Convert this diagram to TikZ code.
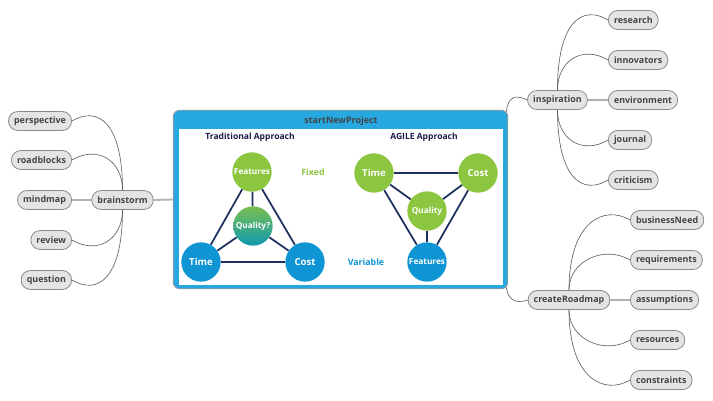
\documentclass[tikz,border=0pt]{standalone}
\usepackage{fontspec}
\setmainfont{Open Sans}
\usepackage{tikz}
\usetikzlibrary{calc}

\definecolor{mmfill}{HTML}{E4E4E4}
\definecolor{mmline}{HTML}{8A8A8A}
\definecolor{mmtext}{HTML}{444444}
\definecolor{projblue}{HTML}{27A8E0}
\definecolor{leafgreen}{HTML}{8CC540}
\definecolor{ballblue}{HTML}{0F94D4}
\definecolor{linknavy}{HTML}{1D2F5E}
\definecolor{qualteal}{HTML}{0E9AAE}
\definecolor{headnavy}{HTML}{1B1B4B}

\begin{document}
\begin{tikzpicture}[
  x=0.75pt,y=-0.75pt,
  topic/.style={
    draw=mmline, fill=mmfill, line width=0.6pt,
    rounded corners=7pt, minimum height=14.25pt,
    inner xsep=4.2pt, inner ysep=0pt,
    text=mmtext, font=\fontsize{6.7}{7}\selectfont\bfseries
  },
  branch/.style={draw=black!60, line width=0.5pt},
  stem/.style={draw=black!30, line width=1.4pt},
  projbox/.style={
    draw=black!40, fill=projblue, line width=0.6pt,
    rounded corners=5pt, minimum width=251pt, minimum height=134pt
  },
  ball/.style={circle, minimum size=29.5pt, inner sep=0pt,
    text=white, font=\fontsize{6.2}{6}\selectfont\bfseries},
  bigball/.style={ball, font=\fontsize{7.2}{7}\selectfont\bfseries},
  link/.style={draw=linknavy, line width=1.3pt},
  heading/.style={text=headnavy, font=\fontsize{6.4}{7}\selectfont\bfseries},
  tag/.style={font=\fontsize{6.6}{7}\selectfont\bfseries},
]
\useasboundingbox (0,0) rectangle (713,400);

% Central project box
\node[projbox] (project) at (340.5,199.5) {};
\fill[white] (179,129) rectangle (503,285);
\node[topic, draw=none, fill=none] (ptitle) at (341,121) {startNewProject};

\node[heading] (tradhead) at (250,137) {Traditional Approach};
\node[heading] (agilehead) at (424,137) {AGILE Approach};

% Traditional triangle
\node[ball, fill=leafgreen] (tfeat) at (252,172) {Features};
\node[ball, top color=leafgreen!85!qualteal, bottom color=qualteal] (tqual) at (253,226) {Quality?};
\node[bigball, fill=ballblue] (ttime) at (201,262) {Time};
\node[bigball, fill=ballblue] (tcost) at (305,262) {Cost};
\draw[link] (tfeat) -- (ttime);
\draw[link] (tfeat) -- (tcost);
\draw[link] (ttime) -- (tcost);
\draw[link] (tfeat) -- (tqual);
\draw[link] (tqual) -- (ttime);
\draw[link] (tqual) -- (tcost);

\node[tag, text=leafgreen] (fixed) at (313,172) {Fixed};
\node[tag, text=ballblue] (variable) at (366,262) {Variable};

% AGILE triangle
\node[bigball, fill=leafgreen] (atime) at (374,173) {Time};
\node[bigball, fill=leafgreen] (acost) at (478,173) {Cost};
\node[ball, fill=leafgreen] (aqual) at (427,211) {Quality};
\node[ball, fill=ballblue] (afeat) at (427,262) {Features};
\draw[link] (atime) -- (acost);
\draw[link] (atime) -- (afeat);
\draw[link] (acost) -- (afeat);
\draw[link] (aqual) -- (atime);
\draw[link] (aqual) -- (acost);
\draw[link] (aqual) -- (afeat);

% Left branch
\node[topic] (brainstorm) at (122.5,200) {brainstorm};
\node[topic, anchor=east] (perspective) at (72,121) {perspective};
\node[topic, anchor=east] (roadblocks) at (72,160) {roadblocks};
\node[topic, anchor=east] (mindmap) at (72,200) {mindmap};
\node[topic, anchor=east] (review) at (72,240) {review};
\node[topic, anchor=east] (question) at (72,280) {question};

\draw[stem] (brainstorm.east) -- (project.west);
\draw[stem] (mindmap.east) -- (brainstorm.west);
\draw[branch] (brainstorm.north) .. controls +(0,-69) and +(25,-15) .. (perspective.east);
\draw[branch] (brainstorm.north) .. controls +(0,-30) and +(25,-15) .. (roadblocks.east);
\draw[branch] (brainstorm.south) .. controls +(0,30) and +(25,15) .. (review.east);
\draw[branch] (brainstorm.south) .. controls +(0,70) and +(25,15) .. (question.east);

% Upper right branch
\node[topic] (inspiration) at (557.5,100) {inspiration};
\node[topic, anchor=west] (research) at (608,20) {research};
\node[topic, anchor=west] (innovators) at (608,60) {innovators};
\node[topic, anchor=west] (environment) at (608,100) {environment};
\node[topic, anchor=west] (journal) at (608,140) {journal};
\node[topic, anchor=west] (criticism) at (608,180) {criticism};

\draw[branch] ($(project.north east)+(-2,2)$) .. controls +(2,-15) and +(-12,-6) .. (inspiration.west);
\draw[stem] (inspiration.east) -- (environment.west);
\draw[branch] (inspiration.north) .. controls +(0,-70) and +(-25,-15) .. (research.west);
\draw[branch] (inspiration.north) .. controls +(0,-30) and +(-25,-15) .. (innovators.west);
\draw[branch] (inspiration.south) .. controls +(0,30) and +(-25,15) .. (journal.west);
\draw[branch] (inspiration.south) .. controls +(0,70) and +(-25,15) .. (criticism.west);

% Lower right branch
\node[topic] (roadmap) at (569,300) {createRoadmap};
\node[topic, anchor=west] (business) at (630,220) {businessNeed};
\node[topic, anchor=west] (requirements) at (630,260) {requirements};
\node[topic, anchor=west] (assumptions) at (630,300) {assumptions};
\node[topic, anchor=west] (resources) at (630,340) {resources};
\node[topic, anchor=west] (constraints) at (630,380) {constraints};

\draw[branch] ($(project.south east)+(-2,-2)$) .. controls +(2,13) and +(-12,4) .. (roadmap.west);
\draw[stem] (roadmap.east) -- (assumptions.west);
\draw[branch] (roadmap.north) .. controls +(0,-70) and +(-25,-15) .. (business.west);
\draw[branch] (roadmap.north) .. controls +(0,-30) and +(-25,-15) .. (requirements.west);
\draw[branch] (roadmap.south) .. controls +(0,30) and +(-25,15) .. (resources.west);
\draw[branch] (roadmap.south) .. controls +(0,70) and +(-25,15) .. (constraints.west);

\end{tikzpicture}
\end{document}
